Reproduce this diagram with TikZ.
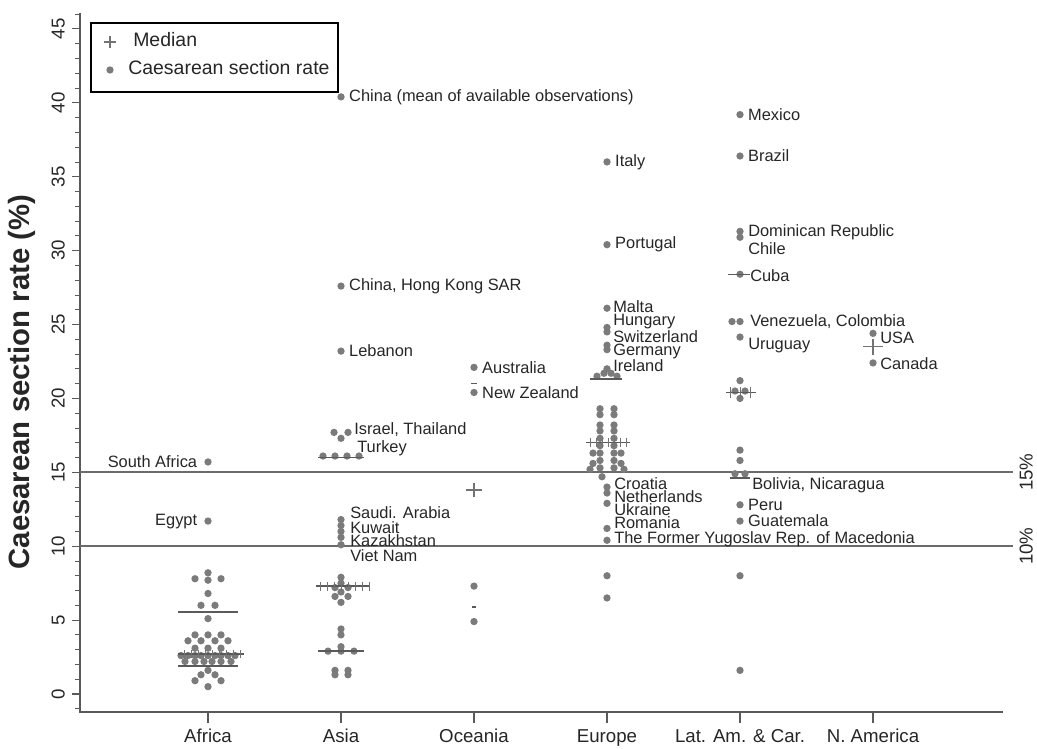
\documentclass[tikz,border=0pt]{standalone}
\usepackage{fontspec}
\setmainfont{Liberation Sans}
\usetikzlibrary{positioning}
\definecolor{dotgray}{HTML}{7B7B7B}
\definecolor{axgray}{HTML}{5A5A5A}
\definecolor{txt}{HTML}{262626}

\begin{document}
\begin{tikzpicture}[x=0.75pt,y=11.085pt,node distance=3pt]
  \tikzstyle{obs}=[circle,fill=dotgray,inner sep=0pt,minimum size=5.5pt]
  \tikzstyle{lbl}=[inner sep=0pt,text=txt,font=\fontsize{12.3}{13}\selectfont]
  \tikzstyle{axlbl}=[inner sep=0pt,text=txt,text height=1.6ex,text depth=0.3ex,font=\fontsize{14}{16}\selectfont]
  \tikzstyle{medline}=[draw=axgray,line width=1.1pt]
  \tikzstyle{medtick}=[draw=axgray!85,line width=0.7pt]
  \tikzstyle{refline}=[draw=axgray!90,line width=1.5pt]
  \useasboundingbox (0,-3.654) rectangle (1037,46.955);

  % axes
  \draw[axgray,line width=1.5pt] (80,46.07) -- (80,-1.22) -- (1003,-1.22);
  \foreach \v in {-1,...,46} \draw[axgray,line width=0.6pt] (75,\v) -- (80,\v);
  \foreach \v in {0,5,...,45} {
    \draw[axgray,line width=0.8pt] (72,\v) -- (80,\v);
    \node[axlbl,rotate=90] (yt\v) at (60,\v) {\v};
  }
  \node[rotate=90,text=txt,font=\fontsize{22}{24}\selectfont\bfseries] (ytitle) at (22,21.11) {Caesarean section rate (\%)};
  \foreach \x/\n [count=\i] in {208/Africa,341/Asia,474/Oceania,607/Europe,740/{Lat. Am. \& Car.},873/{N. America}} {
    \draw[axgray,line width=0.8pt] (\x,-1.22) -- (\x,-1.95);
    \node[axlbl] (cat\i) at (\x,-2.98) {\n};
  }

  % 15% and 10% lines
  \draw[refline] (80,15) -- (1013,15);
  \draw[refline] (80,10) -- (1013,10);
  \node[axlbl,rotate=90] (r15) at (1028,15) {15\%};
  \node[axlbl,rotate=90] (r10) at (1028,10) {10\%};

  % legend
  \draw[black,line width=0.8pt] (91,45.40) rectangle (338,40.73);
  \draw[medtick,line width=1pt] (104,44.11) -- (116,44.11) (110,43.70) -- (110,44.52);
  \node[axlbl,anchor=west,font=\fontsize{14.6}{16}\selectfont] (lgmed) at (133,44.11) {Median};
  \node[obs] (lgdot) at (110,42.22) {};
  \node[axlbl,anchor=west,font=\fontsize{14.6}{16}\selectfont] (lgrate) at (128,42.22) {Caesarean section rate};

  % Africa
  \node[obs] (safr) at (208,15.7) {};
  \node[lbl,left=5pt of safr] (safrl) {South Africa};
  \node[obs] (egy) at (208,11.7) {};
  \node[lbl,left=5pt of egy] (egyl) {Egypt};
  \foreach \x/\v [count=\i] in {195/7.8,208/8.2,208/7.7,221/7.8,208/6.8,201/6.0,215/6.0,208/5.1}
    \node[obs] (afa\i) at (\x,\v) {};
  \foreach \x/\v [count=\i] in {195/4.0,208/4.0,221/4.0,188/3.6,201/3.6,215/3.6,228/3.6,195/3.1,208/3.1,221/3.1,
      181/2.6,188/2.6,195/2.6,201/2.6,208/2.6,215/2.6,221/2.6,228/2.6,235/2.6,
      185/2.2,195/2.2,204/2.2,212/2.2,221/2.2,231/2.2,208/1.6,201/1.3,215/1.3,195/0.9,221/0.9,208/0.5}
    \node[obs] (afb\i) at (\x,\v) {};
  \draw[medline] (178,5.55) -- (238,5.55);
  \draw[medline] (178,2.7) -- (244,2.7);
  \foreach \x in {184,191,...,240} \draw[medtick] (\x,2.45) -- (\x,2.95);
  \draw[medline] (178,1.9) -- (238,1.9);

  % Asia
  \node[obs] (chn) at (341,40.4) {};
  \node[lbl,right=of chn] (chnl) {China (mean of available observations)};
  \node[obs] (hk) at (341,27.6) {};
  \node[lbl,right=of hk] (hkl) {China, Hong Kong SAR};
  \node[obs] (leb) at (341,23.2) {};
  \node[lbl,right=of leb] (lebl) {Lebanon};
  \foreach \x/\v [count=\i] in {334/17.7,348/17.7,341/17.3,323/16.1,335/16.1,347/16.1,359/16.1,
      341/11.8,341/11.4,341/11.0,341/10.6,341/10.1}
    \node[obs] (asa\i) at (\x,\v) {};
  \node[lbl,anchor=west] (isrl) at (354,17.86) {Israel, Thailand};
  \node[lbl,anchor=west] (turl) at (357,16.64) {Turkey};
  \node[lbl,anchor=west] (saul) at (350,12.3) {Saudi. Arabia};
  \node[lbl,anchor=west] (kuwl) at (350,11.23) {Kuwait};
  \node[lbl,anchor=west] (kazl) at (350,10.35) {Kazakhstan};
  \node[lbl,anchor=west] (vnml) at (350,9.34) {Viet Nam};
  \foreach \x/\v [count=\i] in {341/7.9,341/7.5,335/7.2,348/7.2,341/6.9,335/6.6,348/6.6,341/6.2,
      341/4.4,341/4.0,341/3.2,328/2.9,341/2.9,354/2.9,335/1.6,348/1.6,335/1.3,348/1.3}
    \node[obs] (asb\i) at (\x,\v) {};
  \draw[medline] (318,16.0) -- (364,16.0);
  \draw[medline] (316,7.3) -- (370,7.3);
  \foreach \x in {320,327,...,369} \draw[medtick] (\x,7.0) -- (\x,7.6);
  \draw[medline] (318,2.9) -- (364,2.9);

  % Oceania
  \node[obs] (aus) at (474,22.1) {};
  \node[lbl,right=of aus] (ausl) {Australia};
  \node[obs] (nz) at (474,20.4) {};
  \node[lbl,right=of nz] (nzl) {New Zealand};
  \node[obs] (oca) at (474,7.3) {};
  \node[obs] (ocb) at (474,4.9) {};
  \draw[medline] (471,21.0) -- (477,21.0);
  \draw[medline] (472,5.9) -- (476,5.9);
  \draw[medtick,line width=1pt] (466,13.8) -- (482,13.8) (474,13.3) -- (474,14.3);

  % Europe
  \node[obs] (ita) at (607,36.0) {};
  \node[lbl,right=of ita] (ital) {Italy};
  \node[obs] (por) at (607,30.4) {};
  \node[lbl,right=of por] (porl) {Portugal};
  \foreach \x/\v [count=\i] in {607/26.1,607/24.8,607/24.5,607/23.6,607/23.3,607/22.0,597/21.5,604/21.7,611/21.7,617/21.5}
    \node[obs] (eua\i) at (\x,\v) {};
  \node[lbl,anchor=west] (mltl) at (613,26.18) {Malta};
  \node[lbl,anchor=west] (hunl) at (613,25.17) {Hungary};
  \node[lbl,anchor=west] (swil) at (613,24.15) {Switzerland};
  \node[lbl,anchor=west] (gerl) at (613,23.2) {Germany};
  \node[lbl,anchor=west] (irel) at (613,22.19) {Ireland};
  \foreach \v [count=\i] in {19.3,18.9,18.2,17.8,17.3,16.8,16.3,15.8,15.3} {
    \node[obs] (eul\i) at (600,\v) {};
    \node[obs] (eur\i) at (614,\v) {};
  }
  \foreach \x/\v [count=\i] in {593/16.3,621/16.3,593/15.6,621/15.6,590/15.2,624/15.2,602/14.7,
      607/14.0,607/13.6,607/12.9,607/11.2,607/10.4,607/8.0,607/6.5}
    \node[obs] (eub\i) at (\x,\v) {};
  \node[lbl,anchor=west] (crol) at (614,14.2) {Croatia};
  \node[lbl,anchor=west] (netl) at (614,13.33) {Netherlands};
  \node[lbl,anchor=west] (ukrl) at (614,12.45) {Ukraine};
  \node[lbl,anchor=west] (roml) at (614,11.57) {Romania};
  \node[lbl,anchor=west] (macl) at (614,10.49) {The Former Yugoslav Rep. of Macedonia};
  \draw[medline] (590,21.3) -- (622,21.3);
  \draw[medline] (586,17.0) -- (630,17.0);
  \foreach \x in {590,596,...,626} \draw[medtick] (\x,16.7) -- (\x,17.3);

  % Latin America and Caribbean
  \node[obs] (mex) at (740,39.2) {};
  \node[lbl,right=of mex] (mexl) {Mexico};
  \node[obs] (bra) at (740,36.4) {};
  \node[lbl,right=of bra] (bral) {Brazil};
  \foreach \x/\v [count=\i] in {740/31.3,740/30.9,740/28.4,732/25.2,740/25.2,740/24.15,
      740/21.2,735/20.5,745/20.5,740/20.0,740/16.5,740/15.8,735/14.9,745/14.9,740/8.0,740/1.6}
    \node[obs] (laa\i) at (\x,\v) {};
  \node[lbl,anchor=west] (doml) at (748,31.26) {Dominican Republic};
  \node[lbl,anchor=west] (chil) at (748,30.11) {Chile};
  \node[lbl,anchor=west] (cubl) at (750,28.28) {Cuba};
  \node[lbl,anchor=west] (venl) at (750,25.17) {Venezuela, Colombia};
  \node[lbl,anchor=west] (urul) at (748,23.55) {Uruguay};
  \node[lbl,anchor=west] (boll) at (752,14.14) {Bolivia, Nicaragua};
  \node[obs] (per) at (740,12.8) {};
  \node[lbl,right=of per] (perl) {Peru};
  \node[obs] (gua) at (740,11.7) {};
  \node[lbl,right=of gua] (gual) {Guatemala};
  \draw[medline] (728,28.4) -- (750,28.4);
  \draw[medline] (726,20.4) -- (756,20.4);
  \foreach \x in {730,740,750} \draw[medtick] (\x,20.0) -- (\x,20.8);
  \draw[medline] (730,14.6) -- (750,14.6);

  % North America
  \node[obs] (usa) at (873,24.4) {};
  \node[lbl,anchor=west] (usal) at (880,24.09) {USA};
  \node[obs] (can) at (873,22.4) {};
  \node[lbl,anchor=west] (canl) at (880,22.33) {Canada};
  \draw[medtick,line width=1pt] (863,23.5) -- (883,23.5) (873,22.95) -- (873,24.05);
\end{tikzpicture}
\end{document}
